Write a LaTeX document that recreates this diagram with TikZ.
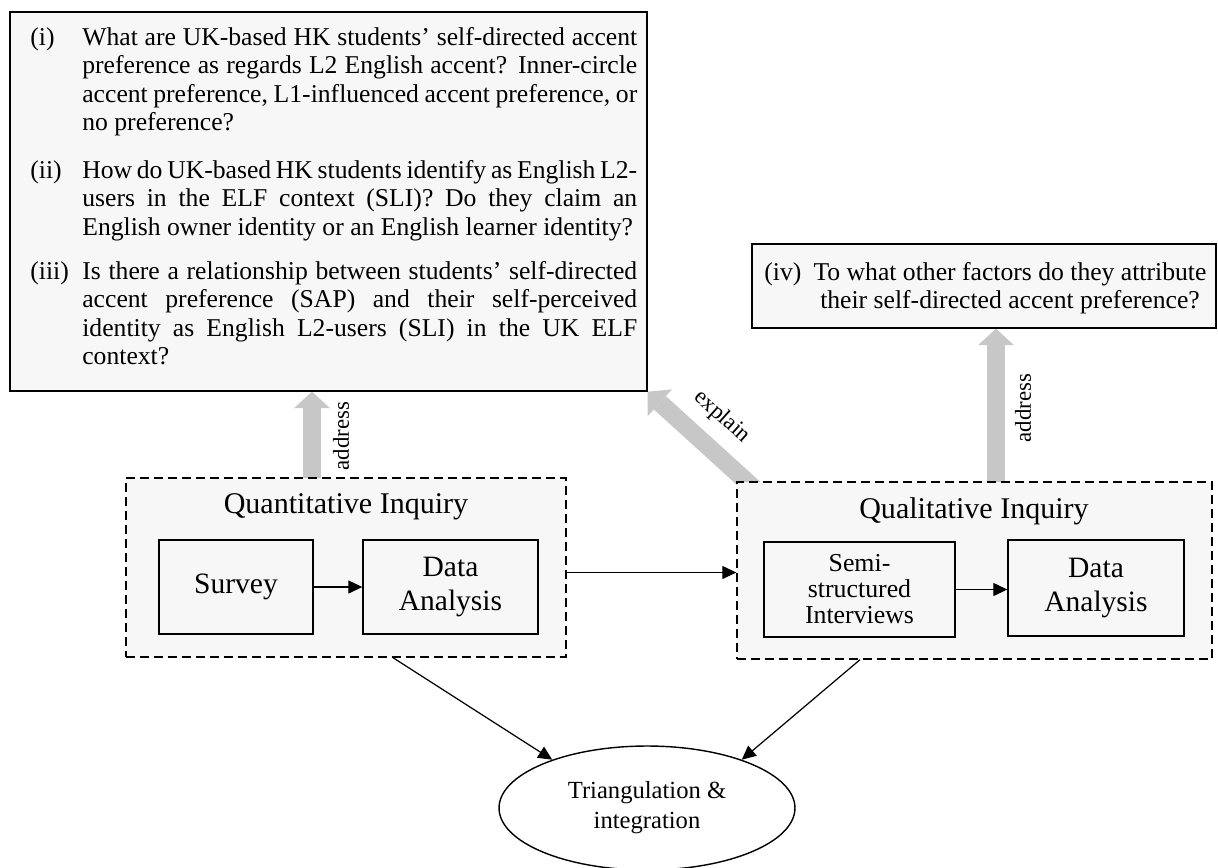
\documentclass[tikz,border=0pt]{standalone}
\usepackage{fontspec}
\setmainfont{Liberation Serif}
\usetikzlibrary{arrows.meta,shapes.geometric,backgrounds,calc}
\newcommand{\myrqf}{\fontsize{14.6}{16.2}\selectfont}
\newcommand{\myheadf}{\fontsize{17.1}{19}\selectfont}
\newcommand{\myboxf}{\fontsize{16.8}{18.8}\selectfont}
\newcommand{\mysemif}{\fontsize{14.7}{14.8}\selectfont}
\newcommand{\mytrif}{\fontsize{14}{17}\selectfont}
\newcommand{\mylabf}{\fontsize{13}{15}\selectfont}
\newcommand{\rqline}[1]{\makebox[11.1cm][s]{#1}}
\begin{document}
\begin{tikzpicture}[x=0.02cm,y=-0.02cm,
  solidbox/.style={draw, line width=0.8pt, fill=black!3, inner sep=0pt},
  dashbox/.style={draw, line width=0.8pt, fill=black!3, inner sep=0pt, dash pattern=on 0.18cm off 0.1cm},
  txt/.style={inner sep=0pt, align=left},
  fat/.style={draw=black!22, line width=0.36cm, -{Triangle[width=0.72cm,length=0.33cm,line width=0pt]}},
  conn/.style={draw, line width=0.7pt, -{Triangle[length=0.28cm,width=0.26cm]}},
  lab/.style={inner sep=0pt, font=\mylabf}]
\useasboundingbox (0,0) rectangle (1218,867);
% research question boxes
\node[solidbox, minimum width=12.74cm, minimum height=7.58cm] (rq) at (328.5,201.5) {};
\node[solidbox, minimum width=9.28cm, minimum height=1.68cm] (rqiv) at (984,286) {};
% items
\node[txt, anchor=north west, font=\myrqf] (l1) at (30,25) {\strut(i)};
\node[txt, anchor=north west, font=\myrqf] (q1) at (82,25) {\strut\rqline{What are UK-based HK students’ self-directed accent}\\
\rqline{preference as regards L2 English accent? Inner-circle}\\
\rqline{accent preference, L1-influenced accent preference, or}\\
no preference?};
\node[txt, anchor=north west, font=\myrqf] (l2) at (30,158) {\strut(ii)};
\node[txt, anchor=north west, font=\myrqf] (q2) at (82,158) {\strut\rqline{How do UK-based HK students identify as English L2-}\\
\rqline{users in the ELF context (SLI)? Do they claim an}\\
English owner identity or an English learner identity?};
\node[txt, anchor=north west, font=\myrqf] (l3) at (30,259) {\strut(iii)};
\node[txt, anchor=north west, font=\myrqf] (q3) at (82,259) {\strut\rqline{Is there a relationship between students’ self-directed}\\
\rqline{accent preference (SAP) and their self-perceived}\\
\rqline{identity as English L2-users (SLI) in the UK ELF}\\
context?};
\node[txt, anchor=north west, font=\myrqf] (l4) at (764,260) {\strut(iv)};
\node[inner sep=0pt, align=center, anchor=north, font=\myrqf] (q4) at (1010,260) {\strut To what other factors do they attribute\\their self-directed accent preference?};
% inquiry boxes
\node[dashbox, minimum width=8.8cm, minimum height=3.58cm] (quant) at (346,567.5) {};
\node[dashbox, minimum width=9.5cm, minimum height=3.54cm] (qual) at (974.5,570.5) {};
\node[inner sep=0pt, font=\myheadf] (hquant) at (346,507) {Quantitative Inquiry};
\node[inner sep=0pt, font=\myheadf] (hqual) at (974,511) {Qualitative Inquiry};
\node[solidbox, minimum width=3.08cm, minimum height=1.88cm, font=\myboxf] (survey) at (236,587) {Survey};
\node[solidbox, minimum width=3.5cm, minimum height=1.88cm, font=\myboxf, align=center] (data1) at (450.5,587) {Data\\Analysis};
\node[solidbox, minimum width=3.82cm, minimum height=1.9cm, font=\mysemif, align=center] (semi) at (859.5,589.5) {Semi-\\structured\\Interviews};
\node[solidbox, minimum width=3.52cm, minimum height=1.92cm, font=\myboxf, align=center] (data2) at (1096,588) {Data\\Analysis};
% triangulation
\node[draw, ellipse, line width=0.8pt, fill=white, minimum width=5.92cm, minimum height=2.48cm, inner sep=0pt, font=\mytrif, align=center] (tri) at (647,808) {Triangulation \&\\integration};
% free ends
\coordinate (ax1) at (312,0);
\coordinate (ax2) at (996,0);
\coordinate (ex) at (757,491);
\coordinate (c1) at (393,0);
\coordinate (c2) at (860,0);
\coordinate (qe) at ($(quant.east)+(0,5)$);
\begin{scope}[on background layer]
\draw[fat] ($(quant.north -| ax1)+(0,8)$) -- (rq.south -| ax1);
\draw[fat] ($(qual.north -| ax2)+(0,8)$) -- (rqiv.south -| ax2);
\draw[fat] (ex) -- (rq.south east);
\end{scope}
\node[lab, rotate=90] (addr1) at (341,436) {address};
\node[lab, rotate=90] (addr2) at (1023,408) {address};
\node[lab, rotate=-42] (expl) at (722,417) {explain};
% connectors
\draw[conn] (survey.east) -- (data1.west);
\draw[conn] (semi.east) -- (semi.east -| data2.west);
\draw[conn] (qe) -- (qe -| qual.west);
\draw[conn] (quant.south -| c1) -- (tri.153);
\draw[conn] (qual.south -| c2) -- (tri.27);
\end{tikzpicture}
\end{document}
